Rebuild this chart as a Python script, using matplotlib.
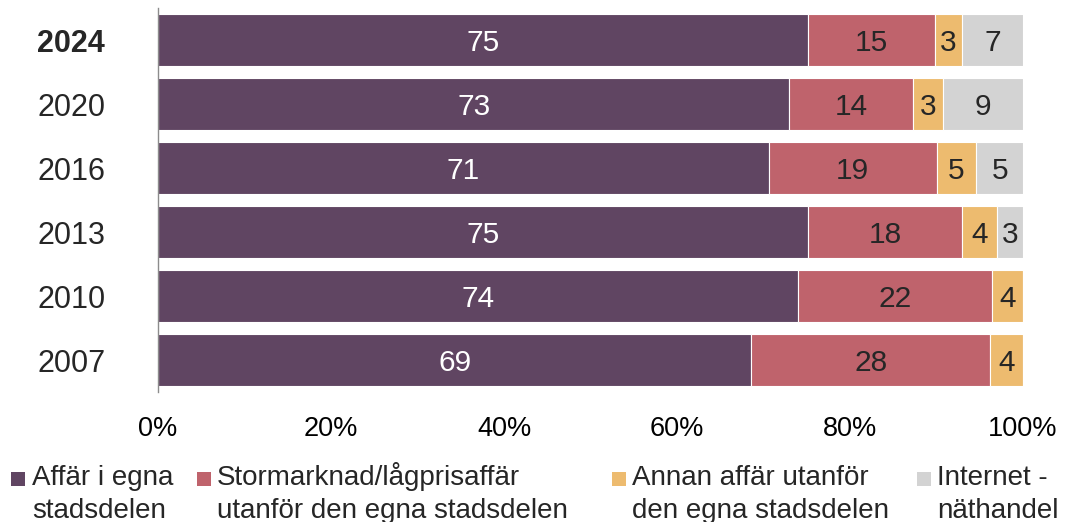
import matplotlib.pyplot as plt
from matplotlib.patches import Rectangle

plt.rcParams["font.family"] = ["Liberation Sans", "DejaVu Sans"]

years = ["2024", "2020", "2016", "2013", "2010", "2007"]
series_names = [
    "Affär i egna\nstadsdelen",
    "Stormarknad/lågprisaffär\nutanför den egna stadsdelen",
    "Annan affär utanför\nden egna stadsdelen",
    "Internet -\nnäthandel",
]
# shares in percent (labels are the rounded values)
own_area = [75.2, 73.0, 70.6, 75.2, 74.0, 68.6]
superstore = [14.6, 14.3, 19.4, 17.8, 22.4, 27.6]
other_shop = [3.2, 3.4, 4.6, 4.0, 3.6, 3.8]
internet = [7.0, 9.3, 5.4, 3.0, 0.0, 0.0]

series = [own_area, superstore, other_shop, internet]
colors = ["#604562", "#BF636C", "#EDBB6F", "#D3D3D3"]
label_colors = ["white", "#262626", "#262626", "#262626"]
text_dark = "#262626"

fig = plt.figure(figsize=(10.72, 5.22), dpi=100)
ax = fig.add_axes([158 / 1072, 1 - 392 / 522, 865 / 1072, 384 / 522])

label_size = 21.5
ypos = list(range(len(years)))
left = [0.0] * len(years)
for values, color, lcolor in zip(series, colors, label_colors):
    bars = ax.barh(ypos, values, left=left, height=0.82, color=color,
                   edgecolor="white", linewidth=0.8)
    for bar, v in zip(bars, values):
        if v <= 0:
            continue
        # baseline shifted so the digits sit in the middle of the bar
        ax.annotate(f"{v:.0f}",
                    (bar.get_x() + bar.get_width() / 2, bar.get_y() + bar.get_height() / 2),
                    xytext=(0, -0.36 * label_size), textcoords="offset points",
                    ha="center", va="baseline", fontsize=label_size, color=lcolor)
    left = [l + v for l, v in zip(left, values)]

ax.set_xlim(0, 100)
ax.set_ylim(-0.5, len(years) - 0.5)
ax.invert_yaxis()
ax.set_yticks(ypos)
ax.set_yticklabels(years)
ax.set_xticks([0, 20, 40, 60, 80, 100])
ax.set_xticklabels([f"{t}%" for t in [0, 20, 40, 60, 80, 100]])
ax.tick_params(axis="y", length=0, pad=38, labelsize=22, labelcolor=text_dark)
ax.tick_params(axis="x", length=0, pad=17, labelsize=19.5, labelcolor="black")
ax.get_yticklabels()[0].set_fontweight("bold")

for side in ["top", "right", "bottom"]:
    ax.spines[side].set_visible(False)
ax.spines["left"].set_color("#8c8c8c")
ax.spines["left"].set_linewidth(1.0)

# legend, laid out as in the original (square marker + two-line label)
W, H = 1072, 522
marker_x = [11, 197, 612, 917]
text_x = [32, 217, 632, 937]
for name, color, mx, tx in zip(series_names, colors, marker_x, text_x):
    fig.add_artist(Rectangle((mx / W, 1 - 486 / H), 14 / W, 14 / H,
                             transform=fig.transFigure, color=color, lw=0))
    line1, line2 = name.split("\n")
    fig.text(tx / W, 1 - 485 / H, line1, fontsize=20, color=text_dark, va="baseline")
    fig.text(tx / W, 1 - 518 / H, line2, fontsize=20, color=text_dark, va="baseline")

fig.savefig("out.png", dpi=100)
